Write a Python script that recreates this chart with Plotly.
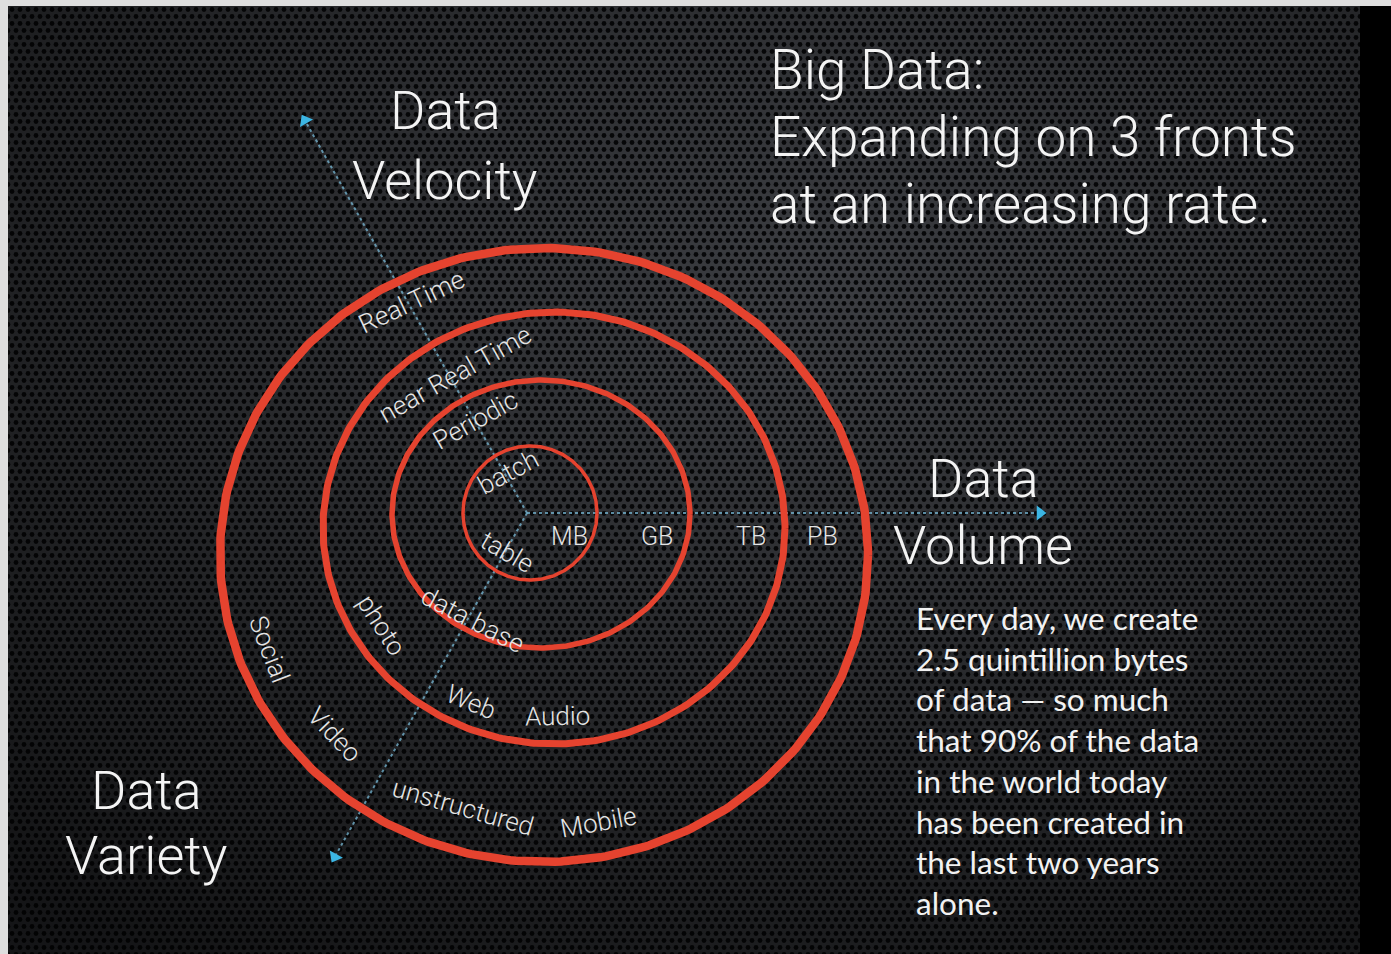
import base64
import numpy as np
import plotly.graph_objects as go

W, H = 1391, 954

# the four fronts, inner -> outer (ellipse centre and radii on the slide, px)
ring_cx = [530, 541, 554, 544]
ring_cy = [513, 514, 528, 555]
ring_rx = [67, 149, 231, 324]
ring_ry = [67, 134, 216, 307]

# volume axis ticks, distance from origin along the axis
volume_ticks = ["MB", "GB", "TB", "PB"]
volume_tick_dist = [42, 130, 224, 295]

# labels written along the rings: ring index, angle on the ring (deg), fraction of radius
ring_labels = ["batch", "table", "Periodic", "data base", "near Real Time", "photo",
               "Web", "Audio", "Real Time", "Social", "Video", "unstructured", "Mobile"]
label_ring = [0, 0, 1, 1, 2, 2, 2, 2, 3, 3, 3, 3, 3]
label_angle = [-118, 120, -122, 120, -121, 149, 114, 89, -116.5, 160, 138, 107, 79]
label_frac = [0.69, 0.68, 0.83, 0.91, 0.83, 0.87, 0.88, 0.87, 0.92, 0.90, 0.87, 0.86, 0.885]

# the three axes out of the common origin
axis_names = ["Volume", "Velocity", "Variety"]
axis_angle = [0, -119.5, 119.2]
axis_length = [513, 451, 394]
origin = (527, 513)

title_lines = ["Big Data:", "Expanding on 3 fronts", "at an increasing rate."]
note_lines = ["Every day, we create", "2.5 quintillion bytes", "of data \u2014 so much",
              "that 90% of the data", "in the world today", "has been created in",
              "the last two years", "alone."]

RED = "#e5432f"
LIGHT = dict(family="Roboto, 'Liberation Sans', sans-serif", weight=300)

# perforated metal background as an svg pattern
svg = (
    "<svg xmlns='http://www.w3.org/2000/svg' width='1352' height='948'>"
    "<defs>"
    "<pattern id='p' width='8' height='14' patternUnits='userSpaceOnUse'>"
    "<rect width='8' height='14' fill='#44464b'/>"
    "<circle cx='4' cy='3.5' r='2.4' fill='#08090b'/>"
    "<circle cx='0' cy='10.5' r='2.4' fill='#08090b'/>"
    "<circle cx='8' cy='10.5' r='2.4' fill='#08090b'/>"
    "</pattern>"
    "<radialGradient id='g' cx='0.6' cy='0.3' r='0.85'>"
    "<stop offset='0' stop-color='#000' stop-opacity='0.12'/>"
    "<stop offset='1' stop-color='#000' stop-opacity='0.7'/>"
    "</radialGradient>"
    "</defs>"
    "<rect width='100%' height='100%' fill='url(#p)'/>"
    "<rect width='100%' height='100%' fill='url(#g)'/>"
    "</svg>"
)
bg_uri = "data:image/svg+xml;base64," + base64.b64encode(svg.encode()).decode()

fig = go.Figure()

# dotted axes with arrow heads
for name, ang, length in zip(axis_names, axis_angle, axis_length):
    a = np.radians(ang)
    ex = origin[0] + length * np.cos(a)
    ey = origin[1] + length * np.sin(a)
    fig.add_trace(go.Scatter(x=[origin[0], ex], y=[origin[1], ey], mode="lines",
                             line=dict(color="rgba(120,185,215,0.75)", width=2, dash="dot"),
                             hoverinfo="skip", showlegend=False))
    fig.add_trace(go.Scatter(x=[ex], y=[ey], mode="markers",
                             marker=dict(symbol="triangle-up", size=13, color="#3cb6e4",
                                         angle=ang + 90, line=dict(width=0)),
                             hoverinfo="skip", showlegend=False))

# rings
ring_width = [3.5, 5.5, 7, 8.5]
t = np.linspace(0, 2 * np.pi, 361)
for cx, cy, rx, ry, w in zip(ring_cx, ring_cy, ring_rx, ring_ry, ring_width):
    fig.add_trace(go.Scatter(x=cx + rx * np.cos(t), y=cy + ry * np.sin(t), mode="lines",
                             line=dict(color=RED, width=w),
                             hoverinfo="skip", showlegend=False))

annotations = []

# labels along the rings
for txt, k, ang, frac in zip(ring_labels, label_ring, label_angle, label_frac):
    a = np.radians(ang)
    x = ring_cx[k] + frac * ring_rx[k] * np.cos(a)
    y = ring_cy[k] + frac * ring_ry[k] * np.sin(a)
    tx, ty = -ring_rx[k] * np.sin(a), ring_ry[k] * np.cos(a)
    if tx < 0:
        tx, ty = -tx, -ty
    annotations.append(dict(x=x, y=y, text=txt, showarrow=False, textangle=np.degrees(np.arctan2(ty, tx)),
                            font=dict(size=26, color="#e4e4e4", **LIGHT)))

# volume ticks
for txt, d in zip(volume_ticks, volume_tick_dist):
    annotations.append(dict(x=origin[0] + d, y=origin[1] + 23, text=txt, showarrow=False,
                            font=dict(size=25, color="#e4e4e4", **LIGHT)))

# axis titles
big = dict(size=54, color="#f4f4f4", **LIGHT)
for txt, x, y in [("Data", 445, 110), ("Velocity", 445, 180),
                  ("Data", 983, 478), ("Volume", 983, 545),
                  ("Data", 146, 790), ("Variety", 146, 855)]:
    annotations.append(dict(x=x, y=y, text=txt, showarrow=False, font=big))

# slide title
for i, line in enumerate(title_lines):
    annotations.append(dict(x=768, y=70 + 67 * i, text=line, showarrow=False, xanchor="left",
                            font=dict(size=55, color="#f4f4f4", **LIGHT)))

# side note
for i, line in enumerate(note_lines):
    annotations.append(dict(x=914, y=618 + 40.7 * i, text=line, showarrow=False, xanchor="left",
                            font=dict(size=31.5, color="#f2f2f2", family="Lato, 'Open Sans', sans-serif")))

fig.update_layout(
    width=W, height=H,
    margin=dict(l=0, r=0, t=0, b=0),
    paper_bgcolor="#000000",
    plot_bgcolor="rgba(0,0,0,0)",
    xaxis=dict(range=[0, W], visible=False, fixedrange=True),
    yaxis=dict(range=[H, 0], visible=False, fixedrange=True),
    annotations=annotations,
    images=[dict(source=bg_uri, xref="paper", yref="paper", x=8 / W, y=1 - 6 / H,
                 sizex=1352 / W, sizey=948 / H, xanchor="left", yanchor="top",
                 sizing="stretch", layer="below")],
    shapes=[
        dict(type="rect", xref="paper", yref="paper", x0=0, x1=8 / W, y0=0, y1=1,
             fillcolor="#dedede", line=dict(width=0), layer="below"),
        dict(type="rect", xref="paper", yref="paper", x0=0, x1=1, y0=1 - 6 / H, y1=1,
             fillcolor="#dedede", line=dict(width=0), layer="below"),
    ],
    showlegend=False,
)

fig.write_html("out.html", config={"displayModeBar": False},
               post_script="document.body.style.margin='0';document.body.style.background='#000';")
